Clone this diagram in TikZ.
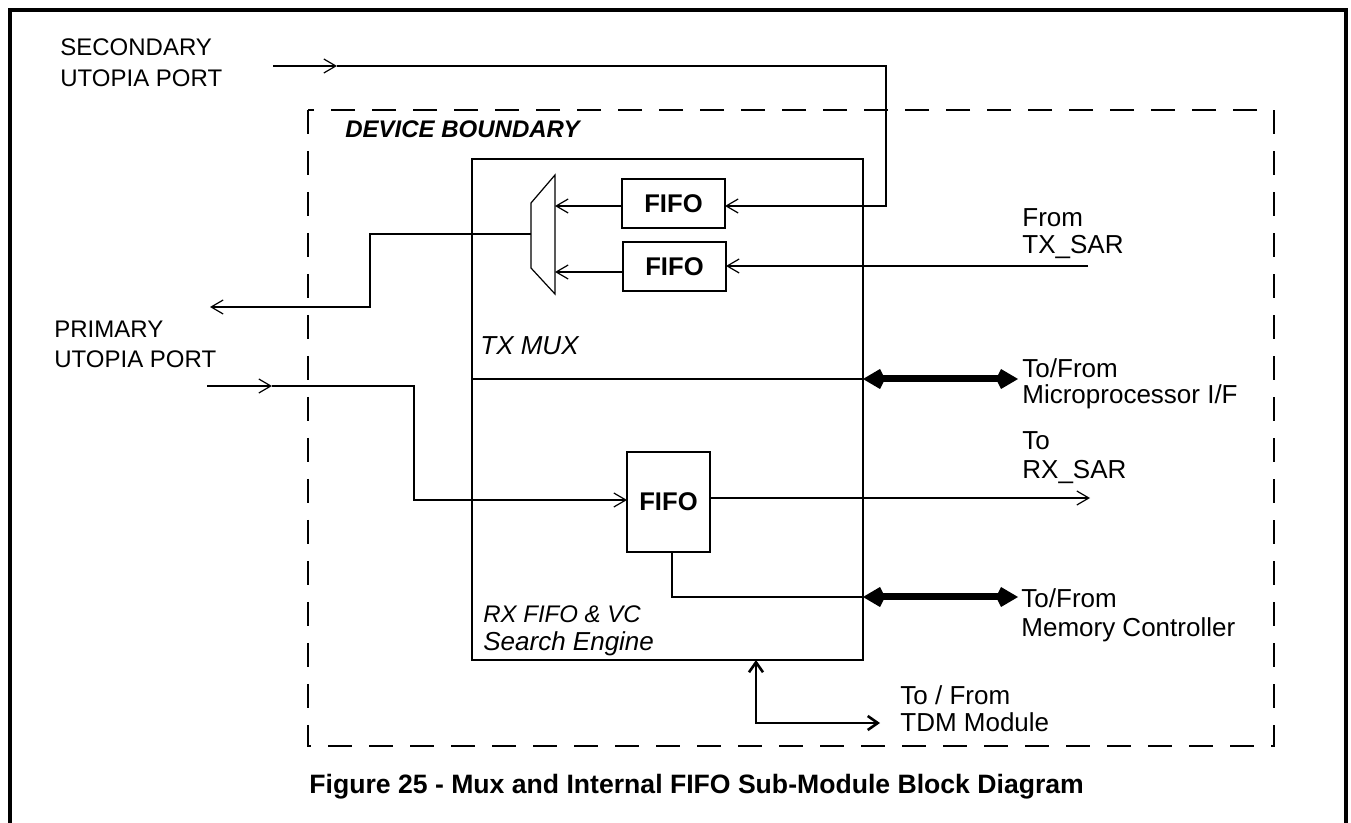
\documentclass[tikz,border=0pt]{standalone}
\usepackage{fontspec}
\setmainfont{Liberation Sans}
\usetikzlibrary{arrows.meta}
\begin{document}
\begin{tikzpicture}[x=0.5pt,y=-0.5pt,
  thinline/.style={line width=0.6pt},
  arr/.style={thinline,-{Straight Barb[length=6pt,width=7pt]}},
  bus/.style={line width=3.5pt,{Kite[length=11pt,width=10pt,inset=2.5pt]}-{Kite[length=11pt,width=10pt,inset=2.5pt]}},
  tdmarr/.style={line width=1.3pt,{Straight Barb[length=5pt,width=7pt]}-{Straight Barb[length=5pt,width=7pt]}},
  block/.style={draw,thinline,inner sep=0pt,outer sep=0pt},
  fifo/.style={block,font=\fontsize{12.8}{14}\selectfont\bfseries},
  lbl/.style={inner sep=0pt,align=left,anchor=west},
  rlbl/.style={lbl,font=\fontsize{13}{14.5}\selectfont},
]
\useasboundingbox (0,0) rectangle (1351,823);

% outer frame
\draw[line width=2pt] (10,823) -- (10,10) -- (1346,10) -- (1346,823);

% device boundary
\draw[thinline,dash pattern=on 12pt off 8.5pt] (308,110) rectangle (1274,746);
\node[inner sep=0pt,anchor=west,font=\fontsize{12}{14}\selectfont\bfseries\itshape] (devb) at (345,129) {DEVICE BOUNDARY};

% main block
\node[block,minimum width=195.5pt,minimum height=250.5pt] (box) at (667.5,409.5) {};
\coordinate (divy) at (0,379);
\draw[thinline] (box.west |- divy) -- (box.east |- divy);

% FIFOs
\node[fifo,minimum width=51.5pt,minimum height=24.5pt] (fifo1) at (673.5,203.5) {FIFO};
\node[fifo,minimum width=51.5pt,minimum height=24.5pt] (fifo2) at (674.5,266.5) {FIFO};
\node[fifo,minimum width=41.5pt,minimum height=50pt] (fifo3) at (668.5,502) {FIFO};

% mux
\coordinate (muxTL) at (531,203);
\coordinate (muxTR) at (555,175);
\coordinate (muxBR) at (555,294);
\coordinate (muxBL) at (531,268);
\draw[thinline] (muxTL) -- (muxTR) -- (muxBR) -- (muxBL) -- cycle;
\coordinate (muxin1) at (555,206);
\coordinate (muxin2) at (555,272);
\coordinate (muxout) at (531,234);

% labels
\node[lbl,font=\fontsize{12}{15.5}\selectfont] (seclbl) at (60,62.5) {SECONDARY\\UTOPIA PORT};
\node[lbl,font=\fontsize{12}{15}\selectfont] (prilbl) at (54,344) {PRIMARY\\UTOPIA PORT};
\node[lbl,font=\fontsize{13}{14}\selectfont\itshape] (txmux) at (480,346) {TX MUX};
\node[inner sep=0pt,anchor=base west,font=\fontsize{12}{14}\selectfont\itshape] (rxa) at (483,622.6) {RX FIFO \& VC};
\node[inner sep=0pt,anchor=base west,font=\fontsize{13}{14}\selectfont\itshape] (rxb) at (483,650.3) {Search Engine};
\node[rlbl,font=\fontsize{13}{13.5}\selectfont] (txsar) at (1022,233.8) {From\\TX\_SAR};
\node[rlbl,font=\fontsize{13}{13}\selectfont] (mpu) at (1022,383.7) {To/From\\Microprocessor I/F};
\node[rlbl,font=\fontsize{13}{14.5}\selectfont] (rxsar) at (1022,457.3) {To\\RX\_SAR};
\node[rlbl,font=\fontsize{13}{14.5}\selectfont] (mem) at (1021,615.2) {To/From\\Memory Controller};
\node[rlbl,font=\fontsize{13}{13.5}\selectfont] (tdm) at (900,708.5) {To / From\\TDM Module};
\node[inner sep=0pt,anchor=west,font=\fontsize{13.3}{16}\selectfont\bfseries] (cap) at (309,787) {Figure 25 - Mux and Internal FIFO Sub-Module Block Diagram};

% secondary port input
\coordinate (secin) at (273,66);
\coordinate (secmid) at (337,66);
\coordinate (secR) at (886,206);
\draw[arr] (secin) -- (secmid);
\draw[arr] (secmid) -| (secR) -- (fifo1.east |- secR);

% fifo -> mux
\draw[arr] (fifo1.west |- muxin1) -- (muxin1);
\draw[arr] (fifo2.west |- muxin2) -- (muxin2);

% from TX_SAR
\coordinate (txin) at (1088,266);
\draw[arr] (txin) -- (fifo2.east |- txin);

% mux output to primary port
\coordinate (muxc) at (370,307);
\coordinate (priout) at (210,307);
\draw[arr] (muxout) -| (muxc) -- (priout);

% primary port input
\coordinate (priin) at (207,386);
\coordinate (primid) at (272,386);
\coordinate (pric) at (414,500);
\draw[arr] (priin) -- (primid);
\draw[arr] (primid) -| (pric) -- (fifo3.west |- pric);

% fifo3 -> RX_SAR
\coordinate (rxout) at (1090,498);
\draw[arr] (fifo3.east |- rxout) -- (rxout);

% fifo3 -> memory
\coordinate (memy) at (0,597);
\draw[thinline] ([xshift=1.75pt]fifo3.south) |- (box.east |- memy);
\coordinate (memR) at (1018,597);
\draw[bus] (box.east |- memy) -- (memR);

% microprocessor bus
\coordinate (mpuR) at (1018,379);
\draw[bus] (box.east |- divy) -- (mpuR);

% TDM
\coordinate (tdmx) at (756,0);
\coordinate (tdmR) at (880,723);
\draw[tdmarr] (box.south -| tdmx) |- (tdmR);
\end{tikzpicture}
\end{document}
